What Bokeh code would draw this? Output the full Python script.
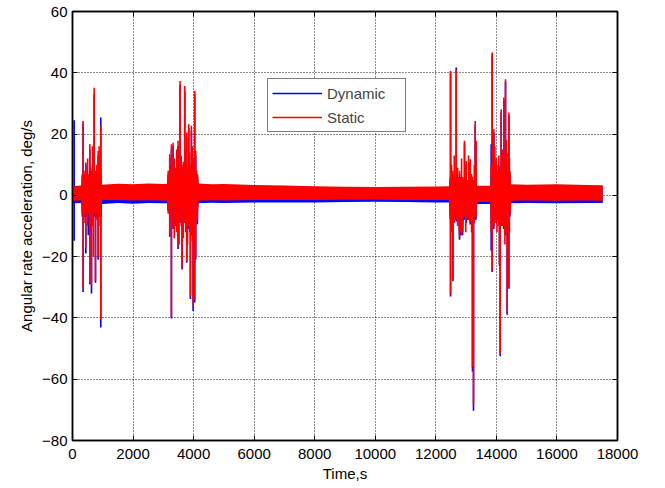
from bokeh.plotting import figure
from bokeh.models import Range1d, LinearAxis, FixedTicker, ColumnDataSource
from bokeh.embed import file_html
from bokeh.resources import INLINE

# ---------------- data ----------------
x_ticks = [0, 2000, 4000, 6000, 8000, 10000, 12000, 14000, 16000, 18000]
y_ticks = [-80, -60, -40, -20, 0, 20, 40, 60]

# envelope of the dense noise band (time, s)
band_t = [0, 290, 300, 960, 975, 1500, 2000, 2500, 3000, 3120, 3135, 4150, 4165,
          4600, 5000, 6000, 7000, 8000, 9000, 10000, 11000, 12000, 12440, 12455,
          12750, 12760, 12910, 12920, 13350, 13365, 13810, 13825, 14470, 14485,
          15000, 16000, 17000, 17514]
static_hi = [3.0, 3.2, 7.0, 7.0, 3.5, 3.8, 3.6, 3.9, 3.7, 3.8, 7.0, 7.0, 3.9,
             3.6, 3.7, 3.4, 3.2, 3.0, 2.8, 2.7, 2.8, 2.9, 3.0, 6.0,
             6.0, 6.0, 6.0, 5.0, 5.0, 3.1, 3.1, 8.0, 8.0, 3.6,
             3.5, 3.6, 3.4, 3.3]
static_lo = [-1.8, -1.7, -6.0, -6.0, -1.6, -1.5, -1.7, -1.6, -1.7, -1.8, -4.0, -4.0, -1.8,
             -1.6, -1.7, -1.5, -1.5, -1.5, -1.4, -1.4, -1.5, -1.5, -1.5, -7.0,
             -7.0, -12.0, -12.0, -7.0, -7.0, -2.2, -2.2, -6.0, -6.0, -1.8,
             -1.7, -1.8, -1.7, -1.8]
dynamic_hi = [2.6, 2.8, 6.5, 6.5, 3.0, 3.2, 3.1, 3.3, 3.2, 3.3, 6.5, 6.5, 3.4,
              3.1, 3.2, 3.0, 2.8, 2.6, 2.4, 2.3, 2.4, 2.5, 2.6, 5.5,
              5.5, 5.5, 5.5, 4.5, 4.5, 2.7, 2.7, 7.5, 7.5, 3.2,
              3.1, 3.2, 3.0, 2.9]
dynamic_lo = [-2.6, -2.5, -7.0, -7.0, -2.8, -2.5, -2.7, -2.5, -2.6, -2.6, -5.0, -5.0, -2.6,
              -2.4, -2.5, -2.3, -2.3, -2.3, -2.2, -2.1, -2.2, -2.3, -2.3, -8.0,
              -8.0, -13.0, -13.0, -8.0, -8.0, -2.8, -2.8, -7.0, -7.0, -2.6,
              -2.5, -2.6, -2.5, -2.5]

# individual spikes: time, peak high, peak low
static_spk_t = [350, 380, 440, 500, 572, 600, 627, 660, 690, 716, 759, 800, 848, 880, 910, 934,
                3160, 3212, 3240, 3267, 3322, 3360, 3399, 3440, 3487, 3520, 3554, 3590, 3620, 3660,
                3707, 3740, 3773, 3800, 3839, 3870, 3894, 3927, 3960, 3983, 4010, 4036, 4069, 4100, 4125,
                12486, 12520, 12564, 12610, 12673, 12720, 12783, 12850, 12947, 12990, 13003, 13080,
                13135, 13180, 13210, 13244, 13270, 13300, 13333,
                13828, 13861, 13890, 13917, 13950, 13993, 14020, 14049, 14080, 14102, 14125, 14158,
                14200, 14247, 14280, 14301, 14330, 14356, 14380, 14412, 14430, 14455]
static_spk_hi = [24.3, 8.0, 10.7, 12.0, 16.7, 9.0, 8.0, 16.0, 6.0, 35.1, 8.0, 10.0, 14.5, 16.0, 13.0, 22.7,
                 8.0, 13.4, 10.0, 16.7, 17.2, 12.0, 9.0, 15.0, 17.8, 10.0, 37.3, 13.0, 10.0, 11.0,
                 35.7, 15.0, 20.5, 9.0, 23.2, 14.0, 10.0, 22.7, 16.0, 12.0, 12.0, 34.1, 14.5, 8.0, 6.0,
                 40.6, 10.0, 8.0, 13.0, 41.0, 9.0, 8.0, 12.0, 17.8, 8.0, 11.2, 13.0,
                 11.8, 7.0, 6.0, 5.0, 10.0, 24.3, 17.8,
                 10.0, 46.6, 14.0, 21.6, 16.0, 12.3, 10.0, 6.9, 13.0, 9.6, 5.0, 28.1,
                 15.0, 31.9, 12.0, 37.9, 18.0, 10.0, 14.0, 27.0, 12.0, 5.0]
static_spk_lo = [-30.5, -9.0, -17.0, -10.0, -28.4, -12.0, -29.5, -10.0, -20.0, -5.0, -27.9, -8.0, -20.0, -6.0, -10.0, -40.5,
                 -6.0, -12.7, -8.0, -39.5, -10.5, -14.0, -9.4, -12.0, -16.5, -16.0, -8.0, -10.0, -23.5, -14.0,
                 -9.0, -12.0, -21.4, -16.0, -10.0, -12.0, -33.0, -12.0, -15.0, -36.0, -18.0, -34.0, -20.3, -7.0, -8.0,
                 -32.5, -12.0, -27.5, -9.0, -8.0, -10.0, -13.7, -13.0, -6.0, -12.0, -8.3, -8.0,
                 -8.7, -12.0, -56.0, -68.0, -9.0, -7.0, -5.0,
                 -12.0, -24.6, -10.0, -10.0, -9.0, -8.0, -12.0, -7.2, -10.0, -22.4, -51.8, -9.0,
                 -10.0, -10.0, -16.0, -12.0, -12.0, -38.2, -18.0, -30.0, -12.0, -5.0]

dynamic_spk_t = [55, 350, 440, 520, 572, 627, 716, 759, 848, 934,
                 3212, 3267, 3322, 3399, 3487, 3554, 3620, 3707, 3773, 3839, 3894, 3927, 3983, 4036, 4069, 4125,
                 12486, 12564, 12673, 12783, 12947, 13003, 13135, 13210, 13244, 13300, 13333,
                 13828, 13861, 13917, 13993, 14049, 14102, 14125, 14158, 14247, 14301, 14356, 14412, 14455]
dynamic_spk_hi = [24.5, 23.5, 10.0, 5.0, 15.0, 7.0, 33.0, 7.0, 13.0, 25.4,
                  12.0, 15.0, 16.0, 8.0, 16.0, 36.0, 9.0, 34.0, 19.0, 22.0, 9.0, 21.0, 11.0, 33.0, 13.0, 5.0,
                  40.0, 7.0, 41.7, 7.0, 17.0, 10.0, 11.0, 5.0, 4.0, 23.0, 17.0,
                  16.7, 46.0, 20.5, 11.5, 6.0, 9.0, 4.5, 27.0, 31.0, 37.0, 9.0, 26.0, 4.0]
dynamic_spk_lo = [-14.8, -31.5, -19.0, -13.0, -29.0, -32.0, -6.0, -28.5, -21.0, -43.1,
                  -13.5, -40.2, -11.0, -10.0, -17.5, -9.0, -24.2, -9.0, -22.0, -11.0, -33.8, -13.0, -37.7, -35.0, -21.0, -9.4,
                  -33.0, -28.0, -8.5, -14.5, -7.0, -9.0, -9.5, -57.5, -70.3, -8.0, -6.0,
                  -18.0, -25.0, -11.0, -9.0, -8.0, -23.0, -52.5, -10.0, -11.0, -13.0, -39.0, -30.5, -6.1]

series_names = ["Dynamic", "Static"]
series_colors = ["#0000FF", "#FF0000"]

# ---------------- figure ----------------
FONT = "Liberation Sans"

p = figure(width=648, height=484, output_backend="svg", toolbar_location=None,
           x_range=Range1d(0, 18000), y_range=Range1d(-80, 60),
           min_border_left=72, min_border_right=31, min_border_top=11, min_border_bottom=44,
           background_fill_color="white", border_fill_color="white")

p.outline_line_color = "black"
p.outline_line_width = 1.5

for ax in (p.xaxis[0], p.yaxis[0]):
    ax.major_label_text_font = FONT
    ax.major_label_text_font_size = "15px"
    ax.major_label_text_color = "black"
    ax.axis_label_text_font = FONT
    ax.axis_label_text_font_size = "15px"
    ax.axis_label_text_font_style = "normal"
    ax.axis_label_text_color = "black"
    ax.axis_line_color = "black"
    ax.axis_line_width = 1.5
    ax.major_tick_in = 5
    ax.major_tick_out = 0
    ax.major_tick_line_color = "black"
    ax.minor_tick_line_color = None

p.xaxis.ticker = FixedTicker(ticks=x_ticks)
p.yaxis.ticker = FixedTicker(ticks=y_ticks)
p.xaxis.axis_label = "Time,s"
p.yaxis.axis_label = "Angular rate acceleration, deg/s"
p.xaxis.major_label_standoff = 8
p.xaxis.axis_label_standoff = 3
p.yaxis.major_label_standoff = 5
p.yaxis.axis_label_standoff = 4

for side, tk in (("right", y_ticks), ("above", x_ticks)):
    ax = LinearAxis(ticker=FixedTicker(ticks=tk), major_label_text_font_size="0px",
                    major_label_text_color=None,
                    major_tick_in=5, major_tick_out=0, minor_tick_line_color=None,
                    axis_line_color="black", axis_line_width=1.5, major_label_standoff=0)
    p.add_layout(ax, side)

p.xgrid.ticker = FixedTicker(ticks=x_ticks)
p.ygrid.ticker = FixedTicker(ticks=y_ticks)
for g in (p.xgrid[0], p.ygrid[0]):
    g.grid_line_color = "black"
    g.grid_line_dash = "1 2"
    g.grid_line_width = 1
    g.grid_line_alpha = 0.9

# ---------------- series ----------------
bands = [(dynamic_hi, dynamic_lo), (static_hi, static_lo)]
spikes = [(dynamic_spk_t, dynamic_spk_hi, dynamic_spk_lo),
          (static_spk_t, static_spk_hi, static_spk_lo)]

for name, color, (hi, lo), (st, sh, sl) in zip(series_names, series_colors, bands, spikes):
    bsrc = ColumnDataSource(dict(t=band_t, hi=hi, lo=lo))
    p.varea(x="t", y1="lo", y2="hi", source=bsrc, fill_color=color)
    ssrc = ColumnDataSource(dict(t=st, hi=sh, lo=sl))
    p.segment(x0="t", y0="lo", x1="t", y1="hi", source=ssrc, line_color=color,
              line_width=1.6, legend_label=name)

lg = p.legend[0]
lg.location = (195, 308)
lg.label_text_font = FONT
lg.label_text_font_size = "15px"
lg.glyph_width = 50
lg.glyph_height = 20
lg.label_height = 20
lg.label_width = 74
lg.label_standoff = 5
lg.padding = 4
lg.spacing = 4
lg.margin = 0
lg.border_line_color = "black"
lg.border_line_width = 1.5
lg.background_fill_color = "white"
lg.background_fill_alpha = 1.0

open("out.html", "w").write(file_html(p, INLINE))
